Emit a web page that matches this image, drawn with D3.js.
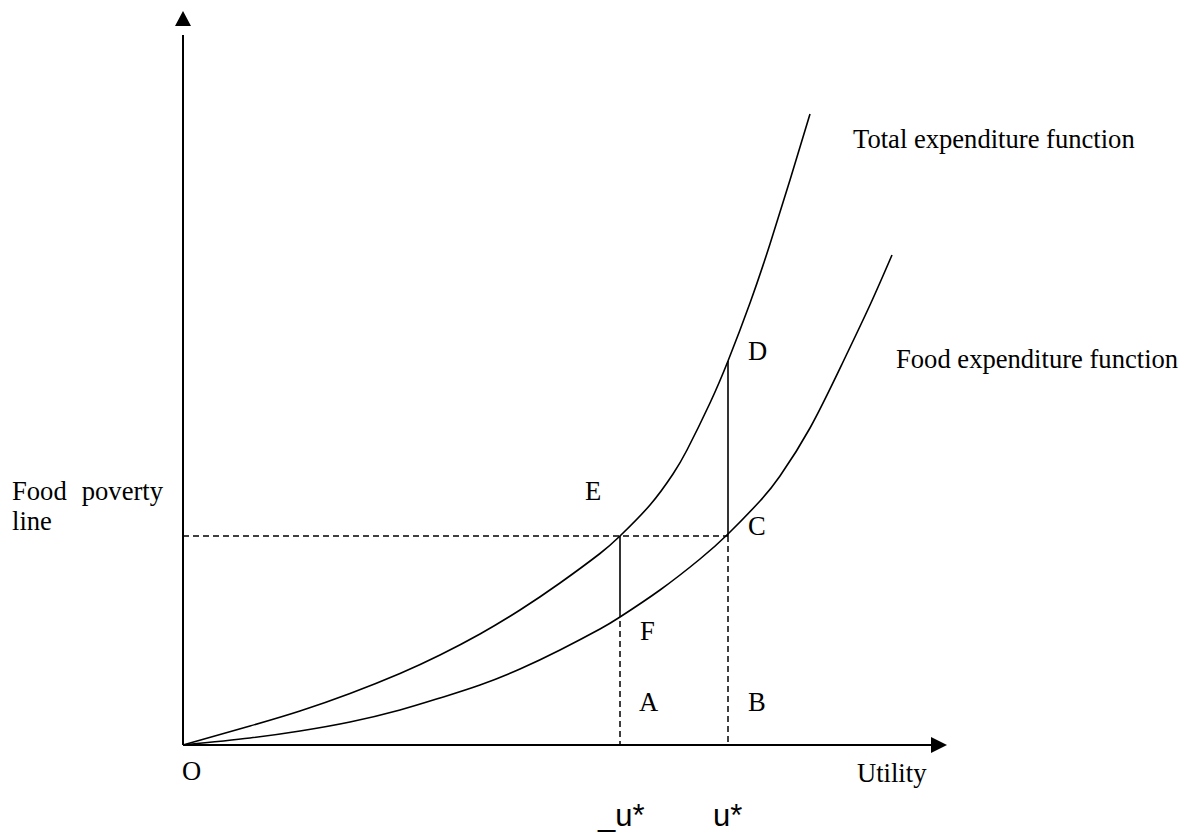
<!DOCTYPE html>
<html>
<head>
<meta charset="utf-8">
<script src="https://cdn.jsdelivr.net/npm/d3@7"></script>
<style>
  body { margin: 0; background: #fff; }
  .lbl { font-family: "Liberation Serif", "Times New Roman", serif; font-size: 26.6px; fill: #000; }
  .ulbl { font-family: "Liberation Sans", Arial, sans-serif; font-size: 31px; fill: #000; }
</style>
</head>
<body>
<div id="chart"></div>
<script>
// utility (u) and expenditure (e), in chart units
const totalU = [0, 67, 117, 167, 217, 257, 297, 337, 377, 417, 437, 467, 490, 504, 527, 545, 567, 587, 607, 627];
const totalE = [0, 19, 34, 51.5, 71.5, 90, 111, 135, 162, 191.5, 209, 240, 271, 295, 342, 384, 442, 501, 565, 631];
const foodU = [0, 67, 117, 167, 217, 257, 297, 337, 377, 417, 437, 477, 517, 545, 577, 597, 627, 660, 687, 709];
const foodE = [0, 7, 14, 23, 35, 47, 60, 76, 95, 116, 128, 155, 186, 211, 244, 269, 317, 383, 440, 490];

const povertyLine = 209;   // food poverty line level
const uLow = 437;          // _u*
const uStar = 545;         // u*
const fTop = 134;          // lower end of the solid E-F segment
const dTop = 384;          // D

const width = 1191, height = 834;
const svg = d3.select("#chart").append("svg")
    .attr("width", width)
    .attr("height", height);

const x = d3.scaleLinear().domain([0, 762]).range([183, 945]);
const y = d3.scaleLinear().domain([0, 734]).range([745, 11]);

// axes with arrow heads
svg.append("line")
    .attr("x1", x(0)).attr("y1", y(0)).attr("x2", x(0)).attr("y2", y(710))
    .attr("stroke", "#000").attr("stroke-width", 2);
svg.append("path")
    .attr("d", "M" + x(0) + "," + y(734) + "L" + (x(0) - 8) + "," + y(719) + "L" + (x(0) + 8) + "," + y(719) + "Z")
    .attr("fill", "#000");
svg.append("line")
    .attr("x1", x(0)).attr("y1", y(0)).attr("x2", x(750)).attr("y2", y(0))
    .attr("stroke", "#000").attr("stroke-width", 2);
svg.append("path")
    .attr("d", "M" + x(764) + "," + y(0) + "L" + x(748) + "," + (y(0) - 8) + "L" + x(748) + "," + (y(0) + 8) + "Z")
    .attr("fill", "#000");

// dashed guides
const dash = "6,4";
svg.append("line")
    .attr("x1", x(0)).attr("y1", y(povertyLine)).attr("x2", x(uStar)).attr("y2", y(povertyLine))
    .attr("stroke", "#000").attr("stroke-width", 1.5).attr("stroke-dasharray", dash);
svg.append("line")
    .attr("x1", x(uLow)).attr("y1", y(fTop)).attr("x2", x(uLow)).attr("y2", y(0))
    .attr("stroke", "#000").attr("stroke-width", 1.5).attr("stroke-dasharray", dash);
svg.append("line")
    .attr("x1", x(uStar)).attr("y1", y(povertyLine)).attr("x2", x(uStar)).attr("y2", y(0))
    .attr("stroke", "#000").attr("stroke-width", 1.5).attr("stroke-dasharray", dash);

// solid segments E-F and D-C
svg.append("line")
    .attr("x1", x(uLow)).attr("y1", y(povertyLine)).attr("x2", x(uLow)).attr("y2", y(fTop))
    .attr("stroke", "#000").attr("stroke-width", 1.6);
svg.append("line")
    .attr("x1", x(uStar)).attr("y1", y(dTop)).attr("x2", x(uStar)).attr("y2", y(povertyLine))
    .attr("stroke", "#000").attr("stroke-width", 1.6);

// curves
const line = d3.line()
    .x(d => x(d[0]))
    .y(d => y(d[1]))
    .curve(d3.curveNatural);

svg.append("path")
    .datum(d3.zip(totalU, totalE))
    .attr("d", line)
    .attr("fill", "none").attr("stroke", "#000").attr("stroke-width", 1.6);
svg.append("path")
    .datum(d3.zip(foodU, foodE))
    .attr("d", line)
    .attr("fill", "none").attr("stroke", "#000").attr("stroke-width", 1.6);

// labels
const labels = [
  { t: "Total expenditure function", x: 853, y: 148 },
  { t: "Food expenditure function", x: 896, y: 368 },
  { t: "D", x: 748, y: 360 },
  { t: "E", x: 585, y: 500 },
  { t: "C", x: 748, y: 535 },
  { t: "F", x: 640, y: 640 },
  { t: "A", x: 639, y: 711 },
  { t: "B", x: 748, y: 711 },
  { t: "O", x: 182, y: 780 },
  { t: "Utility", x: 857, y: 782 },
  { t: "line", x: 12, y: 530 }
];
svg.selectAll("text.lbl")
  .data(labels)
  .enter().append("text")
    .attr("class", "lbl")
    .attr("x", d => d.x)
    .attr("y", d => d.y)
    .text(d => d.t);

// justified "Food poverty"
svg.append("text").attr("class", "lbl").attr("x", 12).attr("y", 500).text("Food");
svg.append("text").attr("class", "lbl").attr("x", 163).attr("y", 500)
    .attr("text-anchor", "end").text("poverty");

svg.append("text").attr("class", "ulbl").attr("x", 598).attr("y", 826).text("_u*");
svg.append("text").attr("class", "ulbl").attr("x", 713).attr("y", 826).text("u*");
</script>
</body>
</html>
